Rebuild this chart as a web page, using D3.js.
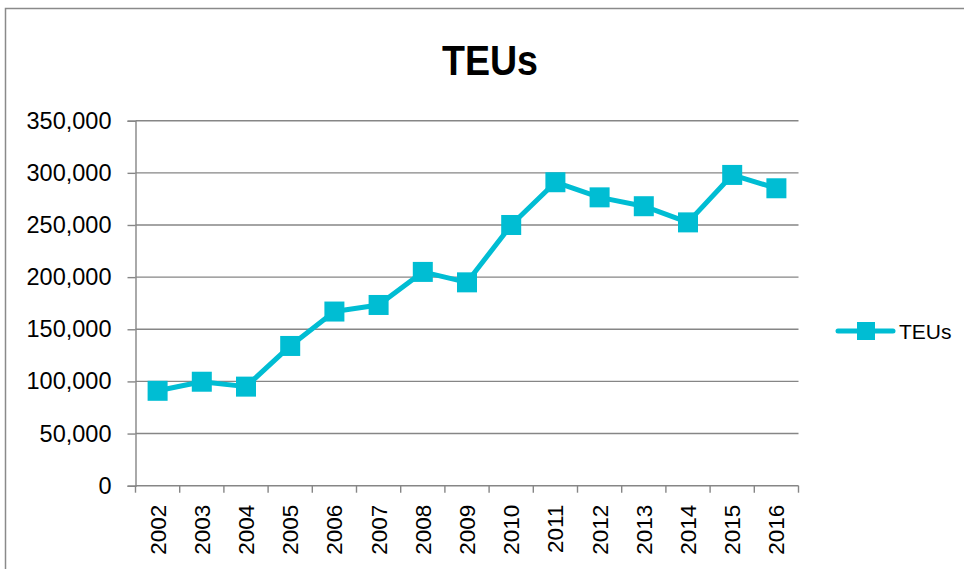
<!DOCTYPE html>
<html>
<head>
<meta charset="utf-8">
<script src="https://cdn.jsdelivr.net/npm/d3@7"></script>
<style>
  html, body { margin: 0; padding: 0; background: #fff; }
  svg { display: block; }
</style>
</head>
<body>
<script>
const years = ["2002","2003","2004","2005","2006","2007","2008","2009","2010","2011","2012","2013","2014","2015","2016"];
const teus = [91000, 99700, 95000, 134000, 167000, 173300, 205000, 195000, 250000, 291000, 276500, 268000, 252500, 298000, 285200];
const yTicks = [0, 50000, 100000, 150000, 200000, 250000, 300000, 350000];
const seriesName = "TEUs";
const titleText = "TEUs";

const W = 964, H = 569;
const color = "#00BDD3";
const gridColor = "#868686";
const font = "'Liberation Sans', Arial, sans-serif";

const svg = d3.select("body").append("svg").attr("width", W).attr("height", H);

// chart border
svg.append("rect").attr("x", 5.5).attr("y", 8.5).attr("width", 980).attr("height", 600)
  .attr("fill", "#fff").attr("stroke", "#8a8a8a").attr("stroke-width", 1.5);

const plot = {left: 135.5, right: 798.5, top: 120.7, bottom: 485.7};

const x = d3.scaleBand().domain(years).range([plot.left, plot.right]);
const y = d3.scaleLinear().domain([0, 350000]).range([plot.bottom, plot.top]);

// title
svg.append("text").attr("x", 490).attr("y", 75).attr("text-anchor", "middle")
  .attr("font-family", font).attr("font-weight", "bold").attr("font-size", 42)
  .attr("textLength", 96).attr("lengthAdjust", "spacingAndGlyphs")
  .attr("fill", "#000").text(titleText);

// gridlines
svg.append("g").selectAll("line").data(yTicks.filter(d => d > 0)).join("line")
  .attr("x1", plot.left).attr("x2", plot.right)
  .attr("y1", d => y(d)).attr("y2", d => y(d))
  .attr("stroke", gridColor).attr("stroke-width", 1.4);

// y axis
const yAxis = d3.axisLeft(y).tickValues(yTicks).tickSize(8).tickPadding(16)
  .tickFormat(d3.format(","));
const gy = svg.append("g").attr("transform", `translate(${plot.left},0)`).call(yAxis);
gy.select(".domain").attr("stroke", gridColor).attr("stroke-width", 1.4);
gy.selectAll(".tick line").attr("stroke", gridColor).attr("stroke-width", 1.4);
gy.selectAll(".tick text").attr("font-family", font).attr("font-size", 23.5).attr("fill", "#000");

// x axis with ticks at band boundaries
const gx = svg.append("g").attr("transform", `translate(0,${plot.bottom})`);
gx.append("line").attr("x1", plot.left).attr("x2", plot.right).attr("y1", 0).attr("y2", 0)
  .attr("stroke", gridColor).attr("stroke-width", 1.4);
const bounds = years.map(d => x(d)).concat([plot.right]);
gx.selectAll("line.tk").data(bounds).join("line").attr("class", "tk")
  .attr("x1", d => d).attr("x2", d => d).attr("y1", 0).attr("y2", 7)
  .attr("stroke", gridColor).attr("stroke-width", 1.4);
gx.selectAll("text").data(years).join("text")
  .attr("transform", d => `translate(${x(d) + x.bandwidth() / 2 + 8},19) rotate(-90)`)
  .attr("text-anchor", "end")
  .attr("font-family", font).attr("font-size", 22.5).attr("fill", "#000")
  .text(d => d);

// line
const data = years.map((d, i) => ({year: d, value: teus[i]}));
const line = d3.line().x(d => x(d.year) + x.bandwidth() / 2).y(d => y(d.value));
svg.append("path").datum(data).attr("d", line).attr("fill", "none")
  .attr("stroke", color).attr("stroke-width", 5).attr("stroke-linejoin", "round");

// markers
const ms = 20;
svg.append("g").selectAll("rect").data(data).join("rect")
  .attr("x", d => x(d.year) + x.bandwidth() / 2 - ms / 2)
  .attr("y", d => y(d.value) - ms / 2)
  .attr("width", ms).attr("height", ms).attr("fill", color);

// legend
const lg = svg.append("g");
lg.append("line").attr("x1", 838).attr("x2", 893).attr("y1", 331).attr("y2", 331)
  .attr("stroke", color).attr("stroke-width", 5).attr("stroke-linecap", "round");
lg.append("rect").attr("x", 857).attr("y", 322).attr("width", 18).attr("height", 18).attr("fill", color);
lg.append("text").attr("x", 899).attr("y", 338.5).attr("font-family", font).attr("font-size", 21)
  .attr("fill", "#000").text(seriesName);
</script>
</body>
</html>
